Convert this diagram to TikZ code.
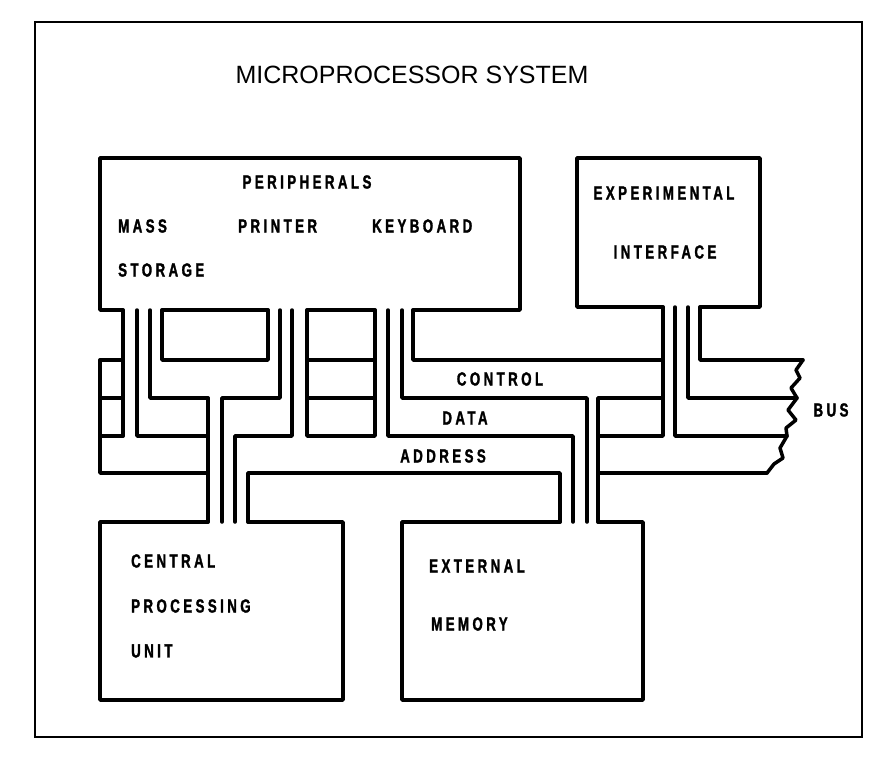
\documentclass[tikz,border=0pt]{standalone}
\usepackage{fontspec}
\setmainfont{Liberation Sans}
\newfontfamily\lblfont[FakeStretch=0.7,LetterSpace=18,FakeBold=1.5]{Liberation Sans Bold}
\usetikzlibrary{positioning}
\tikzset{wall/.style={line width=3.5pt, line join=round, line cap=round},
         lbl/.style={font=\lblfont\fontsize{19}{19}\selectfont, inner sep=0pt},
         lbll/.style={lbl, anchor=west}}
\begin{document}
\begin{tikzpicture}[x=1pt,y=-1pt]
\useasboundingbox (0,0) rectangle (895,769);
% frame
\draw[line width=2.5pt] (35,22) rectangle (862,737);
\node (title) at (412,75) {\fontsize{25}{25}\selectfont MICROPROCESSOR SYSTEM};
% boxes
\draw[wall] (123,310) -- (100,310) -- (100,158) -- (520,158) -- (520,310) -- (413,310);
\draw[wall] (162,310) -- (268,310) (307,310) -- (375,310);
\draw[wall] (663,307) -- (577,307) -- (577,158) -- (760,158) -- (760,307) -- (700,307);
\draw[wall] (208,522) -- (100,522) -- (100,700) -- (343,700) -- (343,522) -- (248,522);
\draw[wall] (560,522) -- (402,522) -- (402,700) -- (643,700) -- (643,522) -- (598,522);
% left end of bus
\draw[wall] (100,360) -- (123,360) (100,398) -- (123,398) (100,436) -- (123,436);
\draw[wall] (100,360) -- (100,473) -- (208,473);
% mass storage
\draw[wall] (123,310) -- (123,436);
\draw[wall] (137,310) -- (137,436) -- (208,436);
\draw[wall] (150,310) -- (150,398) -- (208,398);
\draw[wall] (162,310) -- (162,360) -- (268,360) -- (268,310);
% cpu
\draw[wall] (208,398) -- (208,522);
\draw[wall] (222,522) -- (222,398) -- (280,398) -- (280,310);
\draw[wall] (235,522) -- (235,436) -- (292,436) -- (292,310);
\draw[wall] (248,522) -- (248,473) -- (560,473) -- (560,522);
% printer / keyboard
\draw[wall] (307,310) -- (307,436) -- (375,436) -- (375,310);
\draw[wall] (307,360) -- (375,360) (307,398) -- (375,398);
\draw[wall] (388,310) -- (388,436) -- (573,436) -- (573,522);
\draw[wall] (402,310) -- (402,398) -- (587,398) -- (587,522);
\draw[wall] (413,310) -- (413,360) -- (663,360) -- (663,307);
% memory / experimental
\draw[wall] (663,360) -- (663,436) -- (598,436);
\draw[wall] (598,522) -- (598,398) -- (663,398);
\draw[wall] (598,473) -- (767,473);
\draw[wall] (675,307) -- (675,436) -- (787,436);
\draw[wall] (688,307) -- (688,398) -- (797,398);
\draw[wall] (700,307) -- (700,360) -- (803,360);
% broken end
\draw[wall] (803,360) -- (796,370) -- (800,378) -- (791,388) -- (797,398) -- (788,410)
  -- (796,420) -- (786,428) -- (787,436) -- (780,448) -- (783,458) -- (774,464) -- (767,473);
% labels
\node[lbl] (peri) at (307,182) {PERIPHERALS};
\node[lbll] (mass) at (118,226) {MASS};
\node[lbll] (stor) at (118,270) {STORAGE};
\node[lbll] (prn) at (238,226) {PRINTER};
\node[lbll] (kbd) at (372,226) {KEYBOARD};
\node[lbl] (expt) at (664,193) {EXPERIMENTAL};
\node[lbl] (intf) at (665,252) {INTERFACE};
\node[lbl] (ctrl) at (500,379) {CONTROL};
\node[lbl] (data) at (465,418) {DATA};
\node[lbl] (addr) at (443,456) {ADDRESS};
\node[lbl] (bus) at (831,410) {BUS};
\node[lbll] (cen) at (131,561) {CENTRAL};
\node[lbll] (proc) at (131,606) {PROCESSING};
\node[lbll] (unit) at (131,651) {UNIT};
\node[lbll] (ext) at (429,566) {EXTERNAL};
\node[lbll] (mem) at (431,624) {MEMORY};
\end{tikzpicture}
\end{document}
